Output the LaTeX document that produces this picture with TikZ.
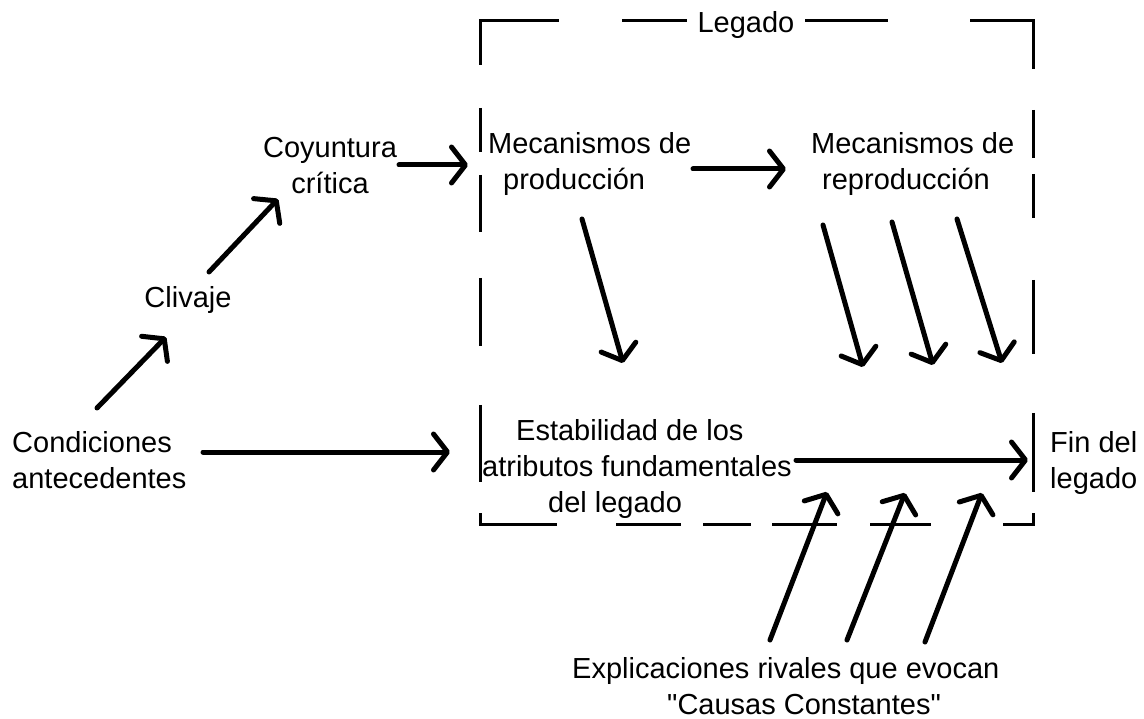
\documentclass[tikz,border=0pt]{standalone}
\usepackage{fontspec}
\newfontfamily\lsans{Liberation Sans}
\usetikzlibrary{arrows.meta}
\begin{document}
\begin{tikzpicture}[x=1pt,y=-1pt,
  txt/.style={inner sep=0pt, font=\lsans\fontsize{29}{36}\selectfont},
  arr/.style={line width=5pt, line cap=round,
    -{Straight Barb[length=14pt,width=36pt,round]}},
  boxline/.style={line width=3pt}]
\useasboundingbox (0,0) rectangle (1144,719);

% dashed frame of the legacy
\draw[boxline] (480,65) -- (480,21) -- (559,21);
\draw[boxline] (622,21) -- (687,21);
\draw[boxline] (805,21) -- (888,21);
\draw[boxline] (970,21) -- (1033,21) -- (1033,69);
\draw[boxline] (480,108) -- (480,152);
\draw[boxline] (480,175) -- (480,232);
\draw[boxline] (480,278) -- (480,346);
\draw[boxline] (480,405) -- (480,482);
\draw[boxline] (480,513) -- (480,524) -- (557,524);
\draw[boxline] (616,524) -- (681,524);
\draw[boxline] (703,524) -- (751,524);
\draw[boxline] (772,524) -- (837,524);
\draw[boxline] (870,524) -- (931,524);
\draw[boxline] (1003,524) -- (1033,524) -- (1033,513);
\draw[boxline] (1033,110) -- (1033,158);
\draw[boxline] (1033,174) -- (1033,218);
\draw[boxline] (1033,280) -- (1033,354);
\draw[boxline] (1033,413) -- (1033,492);

% texts
\node[txt] (legado) at (746,25) {Legado};
\node[txt, align=center] (coy) at (330,166) {Coyuntura\\crítica};
\node[txt] (cliv) at (188,300) {Clivaje};
\node[txt, align=left, anchor=west] (cond) at (12,460) {Condiciones\\antecedentes};
\node[txt, align=left, anchor=west] (mprod) at (488,164) {Mecanismos de\\\hspace*{15pt}producción};
\node[txt, align=left, anchor=west] (mrep) at (811,164) {Mecanismos de\\\hspace*{11pt}reproducción};
\node[txt, align=left, anchor=west] (estab) at (482,469) {\hspace*{34pt}Estabilidad de los\\atributos fundamentales\\\hspace*{66pt}del legado};
\node[txt, align=left, anchor=west] (fin) at (1050,463) {Fin del\\legado};
\node[txt, align=left, anchor=west] (expl) at (572,686) {Explicaciones rivales que evocan\\\hspace*{95pt}"Causas Constantes"};

% connector end points
\coordinate (c1s) at (203,452); \coordinate (c1e) at (450,452);
\coordinate (c2s) at (97,408);  \coordinate (c2e) at (166,337);
\coordinate (c3s) at (209,272); \coordinate (c3e) at (278,199);
\coordinate (c4s) at (399,165); \coordinate (c4e) at (468,165);
\coordinate (c5s) at (693,169); \coordinate (c5e) at (786,169);
\coordinate (c6s) at (582,219); \coordinate (c6e) at (623,363);
\coordinate (c7s) at (823,225); \coordinate (c7e) at (863,367);
\coordinate (c8s) at (892,222); \coordinate (c8e) at (933,365);
\coordinate (c9s) at (957,219); \coordinate (c9e) at (1002,363);
\coordinate (c10s) at (796,460); \coordinate (c10e) at (1028,460);
\coordinate (c11s) at (770,640); \coordinate (c11e) at (827,492);
\coordinate (c12s) at (847,640); \coordinate (c12e) at (905,493);
\coordinate (c13s) at (925,642); \coordinate (c13e) at (982,493);

\draw[arr] (c1s) -- (c1e);
\draw[arr] (c2s) -- (c2e);
\draw[arr] (c3s) -- (c3e);
\draw[arr] (c4s) -- (c4e);
\draw[arr] (c5s) -- (c5e);
\draw[arr] (c6s) -- (c6e);
\draw[arr] (c7s) -- (c7e);
\draw[arr] (c8s) -- (c8e);
\draw[arr] (c9s) -- (c9e);
\draw[arr] (c10s) -- (c10e);
\draw[arr] (c11s) -- (c11e);
\draw[arr] (c12s) -- (c12e);
\draw[arr] (c13s) -- (c13e);
\end{tikzpicture}
\end{document}
